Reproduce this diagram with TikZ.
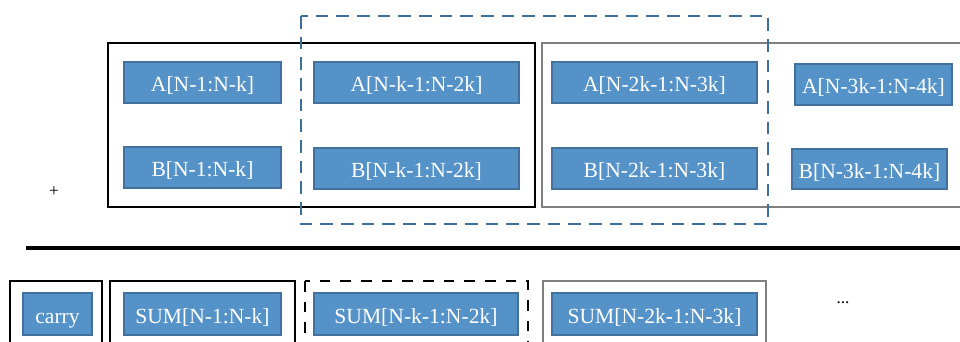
\documentclass[tikz,border=0pt]{standalone}
\usepackage{fontspec}
\setmainfont{Liberation Serif}
\definecolor{cellfill}{RGB}{84,146,200}
\definecolor{cellline}{RGB}{65,113,156}
\definecolor{dashblue}{RGB}{62,110,155}
\definecolor{framegray}{RGB}{128,128,128}
\begin{document}
\begin{tikzpicture}[x=0.75pt,y=-0.75pt,
  cell/.style={draw=cellline, fill=cellfill, line width=1.3pt, text=white,
    font=\fontsize{16.2}{19}\selectfont, inner sep=0pt, anchor=center,
    text height=14.2pt, text depth=0pt},
  wh/.style 2 args={minimum width=#1*0.75pt, minimum height=#2*0.75pt},
  blackframe/.style={draw=black, line width=2.2pt},
  grayframe/.style={draw=framegray, line width=2pt},
  bluedash/.style={draw=dashblue, line width=2.2pt, dash pattern=on 9.5pt off 6pt},
  blackdash/.style={draw=black, line width=2pt, dash pattern=on 8pt off 7.5pt},
  thinframe/.style={draw=black, line width=2pt},
  small/.style={font=\fontsize{13}{15}\selectfont, inner sep=0pt}]
\useasboundingbox (0,0) rectangle (960,342);
\clip (0,0) rectangle (960,342);
% frames of the top part
\draw[blackframe] (108,43) rectangle (535,207);
\draw[grayframe] (542,43) rectangle (975,207);
\draw[bluedash] (301,16) rectangle (768,224);
% top cells
\node[cell, wh={157}{41}] (a1) at (202.5,82.5) {A[N-1:N-k]};
\node[cell, wh={157}{41}] (b1) at (202.5,167.5) {B[N-1:N-k]};
\node[cell, wh={205}{41}] (a2) at (416.5,82.5) {A[N-k-1:N-2k]};
\node[cell, wh={205}{41}] (b2) at (416.5,168.5) {B[N-k-1:N-2k]};
\node[cell, wh={205}{41}] (a3) at (654.5,82.5) {A[N-2k-1:N-3k]};
\node[cell, wh={205}{41}] (b3) at (654.5,168.5) {B[N-2k-1:N-3k]};
\node[cell, wh={157}{41}] (a4) at (873.5,84.5) {A[N-3k-1:N-4k]};
\node[cell, wh={155}{40}] (b4) at (869.5,169) {B[N-3k-1:N-4k]};
\node[small] (plus) at (54,192) {+};
% rule
\coordinate (ruleL) at (26,248);
\coordinate (ruleR) at (962,248);
\draw[line width=2.5pt] (ruleL) -- (ruleR);
% bottom frames
\draw[thinframe] (10,281) rectangle (102,360);
\draw[thinframe] (110,281) rectangle (295,360);
\draw[blackdash] (305,281) rectangle (528,360);
\draw[grayframe] (543,281) rectangle (766,360);
% bottom cells
\node[cell, wh={69}{42}] (carry) at (57.5,314) {carry};
\node[cell, wh={157}{42}] (s1) at (202.5,314) {SUM[N-1:N-k]};
\node[cell, wh={204}{42}] (s2) at (416,314) {SUM[N-k-1:N-2k]};
\node[cell, wh={205}{42}] (s3) at (654.5,314) {SUM[N-2k-1:N-3k]};
\node[small] (dots) at (843,303) {...};
\end{tikzpicture}
\end{document}
